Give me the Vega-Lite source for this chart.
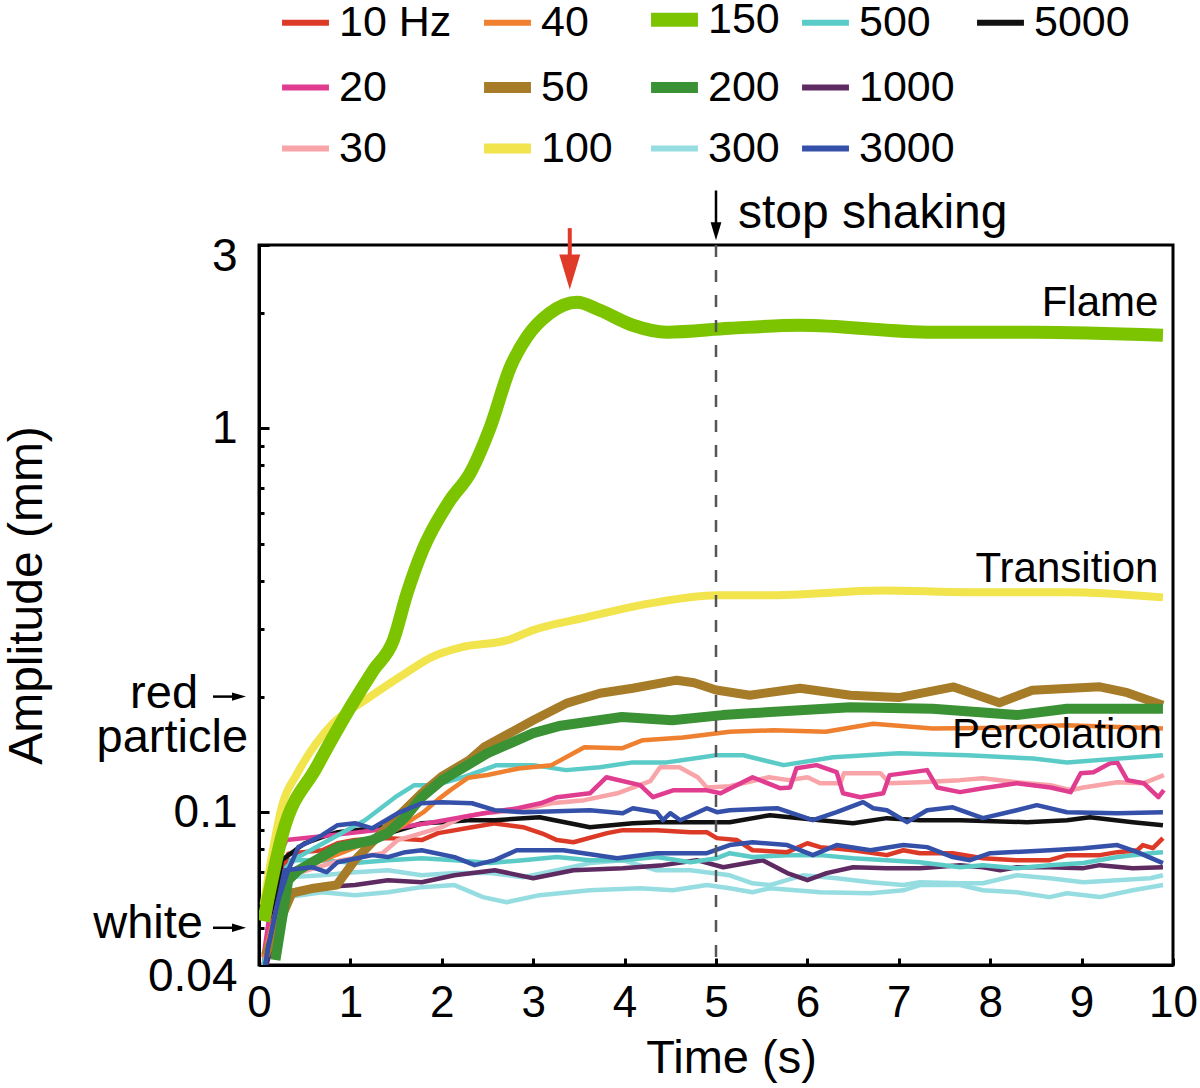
{
"$schema": "https://vega.github.io/schema/vega-lite/v6.json",
"width": 914, "height": 720,
"autosize": {"type": "none"},
"padding": {"left": 259, "top": 245, "right": 27, "bottom": 123},
"background": "white",
"config": {
  "view": {"stroke": "black", "strokeWidth": 3},
  "font": "Liberation Sans",
  "axis": {"domainColor": "black", "domainWidth": 3, "tickColor": "black", "tickWidth": 3, "labelColor": "black", "titleColor": "black", "grid": false, "titleFontWeight": "normal", "labelFont": "Liberation Sans", "titleFont": "Liberation Sans"},
  "text": {"font": "Liberation Sans", "fontSize": 42, "color": "black"}
},
"datasets": {
"series": [
{"f":"300","r":"300b","t":0.05,"a":0.04},{"f":"300","r":"300b","t":0.32,"a":0.0601},{"f":"300","r":"300b","t":0.69,"a":0.0619},{"f":"300","r":"300b","t":1.05,"a":0.0608},{"f":"300","r":"300b","t":1.41,"a":0.0619},{"f":"300","r":"300b","t":1.78,"a":0.0638},{"f":"300","r":"300b","t":2.14,"a":0.0646},{"f":"300","r":"300b","t":2.45,"a":0.0601},{"f":"300","r":"300b","t":2.71,"a":0.0583},{"f":"300","r":"300b","t":3.07,"a":0.0608},{"f":"300","r":"300b","t":3.62,"a":0.0626},{"f":"300","r":"300b","t":4.17,"a":0.0634},{"f":"300","r":"300b","t":4.53,"a":0.0626},{"f":"300","r":"300b","t":4.9,"a":0.0646},{"f":"300","r":"300b","t":5.15,"a":0.0634},{"f":"300","r":"300b","t":5.4,"a":0.0619},{"f":"300","r":"300b","t":5.59,"a":0.0634},{"f":"300","r":"300b","t":6.14,"a":0.0619},{"f":"300","r":"300b","t":6.69,"a":0.0615},{"f":"300","r":"300b","t":7.05,"a":0.0626},{"f":"300","r":"300b","t":7.23,"a":0.0646},{"f":"300","r":"300b","t":7.67,"a":0.0646},{"f":"300","r":"300b","t":7.92,"a":0.0626},{"f":"300","r":"300b","t":8.29,"a":0.0619},{"f":"300","r":"300b","t":8.65,"a":0.0601},{"f":"300","r":"300b","t":8.84,"a":0.0615},{"f":"300","r":"300b","t":9.2,"a":0.0601},{"f":"300","r":"300b","t":9.56,"a":0.0626},{"f":"300","r":"300b","t":9.89,"a":0.0646},
{"f":"300","r":"300","t":0.05,"a":0.04},{"f":"300","r":"300","t":0.32,"a":0.0677},{"f":"300","r":"300","t":0.69,"a":0.0685},{"f":"300","r":"300","t":1.05,"a":0.0698},{"f":"300","r":"300","t":1.41,"a":0.0706},{"f":"300","r":"300","t":1.78,"a":0.0685},{"f":"300","r":"300","t":2.14,"a":0.0694},{"f":"300","r":"300","t":2.53,"a":0.0694},{"f":"300","r":"300","t":2.89,"a":0.0677},{"f":"300","r":"300","t":3.26,"a":0.0706},{"f":"300","r":"300","t":3.62,"a":0.0737},{"f":"300","r":"300","t":3.98,"a":0.075},{"f":"300","r":"300","t":4.35,"a":0.0706},{"f":"300","r":"300","t":4.72,"a":0.0706},{"f":"300","r":"300","t":5.15,"a":0.0685},{"f":"300","r":"300","t":5.4,"a":0.0653},{"f":"300","r":"300","t":5.59,"a":0.0646},{"f":"300","r":"300","t":5.95,"a":0.0685},{"f":"300","r":"300","t":6.32,"a":0.0673},{"f":"300","r":"300","t":6.69,"a":0.0657},{"f":"300","r":"300","t":7.05,"a":0.0646},{"f":"300","r":"300","t":7.23,"a":0.0657},{"f":"300","r":"300","t":7.67,"a":0.0653},{"f":"300","r":"300","t":7.92,"a":0.0653},{"f":"300","r":"300","t":8.29,"a":0.0685},{"f":"300","r":"300","t":8.65,"a":0.0673},{"f":"300","r":"300","t":9.02,"a":0.0657},{"f":"300","r":"300","t":9.39,"a":0.0665},{"f":"300","r":"300","t":9.75,"a":0.0673},{"f":"300","r":"300","t":9.89,"a":0.0685},
{"f":"1000","r":"1000","t":0.08,"a":0.04},{"f":"1000","r":"1000","t":0.32,"a":0.0619},{"f":"1000","r":"1000","t":0.69,"a":0.0638},{"f":"1000","r":"1000","t":1.05,"a":0.0646},{"f":"1000","r":"1000","t":1.41,"a":0.0665},{"f":"1000","r":"1000","t":1.78,"a":0.0657},{"f":"1000","r":"1000","t":2.14,"a":0.0685},{"f":"1000","r":"1000","t":2.58,"a":0.0706},{"f":"1000","r":"1000","t":3.0,"a":0.0673},{"f":"1000","r":"1000","t":3.44,"a":0.0706},{"f":"1000","r":"1000","t":3.98,"a":0.0715},{"f":"1000","r":"1000","t":4.42,"a":0.0728},{"f":"1000","r":"1000","t":4.79,"a":0.075},{"f":"1000","r":"1000","t":5.08,"a":0.0719},{"f":"1000","r":"1000","t":5.51,"a":0.075},{"f":"1000","r":"1000","t":5.78,"a":0.0694},{"f":"1000","r":"1000","t":6.0,"a":0.0665},{"f":"1000","r":"1000","t":6.21,"a":0.0694},{"f":"1000","r":"1000","t":6.5,"a":0.0719},{"f":"1000","r":"1000","t":6.87,"a":0.0715},{"f":"1000","r":"1000","t":7.23,"a":0.0715},{"f":"1000","r":"1000","t":7.67,"a":0.0728},{"f":"1000","r":"1000","t":7.92,"a":0.0719},{"f":"1000","r":"1000","t":8.11,"a":0.0706},{"f":"1000","r":"1000","t":8.29,"a":0.0719},{"f":"1000","r":"1000","t":8.65,"a":0.0719},{"f":"1000","r":"1000","t":9.02,"a":0.0715},{"f":"1000","r":"1000","t":9.2,"a":0.0728},{"f":"1000","r":"1000","t":9.56,"a":0.0715},{"f":"1000","r":"1000","t":9.89,"a":0.0719},
{"f":"500","r":"500b","t":0.05,"a":0.04},{"f":"500","r":"500b","t":0.32,"a":0.075},{"f":"500","r":"500b","t":0.69,"a":0.075},{"f":"500","r":"500b","t":1.05,"a":0.0737},{"f":"500","r":"500b","t":1.41,"a":0.075},{"f":"500","r":"500b","t":1.78,"a":0.0759},{"f":"500","r":"500b","t":2.14,"a":0.075},{"f":"500","r":"500b","t":2.53,"a":0.0737},{"f":"500","r":"500b","t":2.89,"a":0.075},{"f":"500","r":"500b","t":3.26,"a":0.0764},{"f":"500","r":"500b","t":3.62,"a":0.075},{"f":"500","r":"500b","t":3.98,"a":0.075},{"f":"500","r":"500b","t":4.35,"a":0.0764},{"f":"500","r":"500b","t":4.72,"a":0.0741},{"f":"500","r":"500b","t":5.01,"a":0.0759},{"f":"500","r":"500b","t":5.15,"a":0.0782},{"f":"500","r":"500b","t":5.4,"a":0.0764},{"f":"500","r":"500b","t":5.78,"a":0.0773},{"f":"500","r":"500b","t":6.14,"a":0.0773},{"f":"500","r":"500b","t":6.5,"a":0.0759},{"f":"500","r":"500b","t":6.87,"a":0.075},{"f":"500","r":"500b","t":7.23,"a":0.0741},{"f":"500","r":"500b","t":7.67,"a":0.0719},{"f":"500","r":"500b","t":7.92,"a":0.0728},{"f":"500","r":"500b","t":8.29,"a":0.0715},{"f":"500","r":"500b","t":8.65,"a":0.0728},{"f":"500","r":"500b","t":9.02,"a":0.0737},{"f":"500","r":"500b","t":9.39,"a":0.0764},{"f":"500","r":"500b","t":9.75,"a":0.0782},{"f":"500","r":"500b","t":9.89,"a":0.0787},
{"f":"10 Hz","r":"10","t":0.05,"a":0.04},{"f":"10 Hz","r":"10","t":0.15,"a":0.06},{"f":"10 Hz","r":"10","t":0.32,"a":0.078},{"f":"10 Hz","r":"10","t":0.69,"a":0.0796},{"f":"10 Hz","r":"10","t":0.86,"a":0.083},{"f":"10 Hz","r":"10","t":1.05,"a":0.0846},{"f":"10 Hz","r":"10","t":1.41,"a":0.0856},{"f":"10 Hz","r":"10","t":1.78,"a":0.0846},{"f":"10 Hz","r":"10","t":1.96,"a":0.0882},{"f":"10 Hz","r":"10","t":2.33,"a":0.0914},{"f":"10 Hz","r":"10","t":2.58,"a":0.0935},{"f":"10 Hz","r":"10","t":2.89,"a":0.0914},{"f":"10 Hz","r":"10","t":3.1,"a":0.088},{"f":"10 Hz","r":"10","t":3.26,"a":0.0846},{"f":"10 Hz","r":"10","t":3.44,"a":0.0835},{"f":"10 Hz","r":"10","t":3.81,"a":0.0882},{"f":"10 Hz","r":"10","t":3.98,"a":0.0898},{"f":"10 Hz","r":"10","t":4.35,"a":0.0898},{"f":"10 Hz","r":"10","t":4.72,"a":0.0887},{"f":"10 Hz","r":"10","t":4.9,"a":0.0887},{"f":"10 Hz","r":"10","t":5.01,"a":0.0856},{"f":"10 Hz","r":"10","t":5.23,"a":0.0846},{"f":"10 Hz","r":"10","t":5.4,"a":0.0796},{"f":"10 Hz","r":"10","t":5.78,"a":0.0787},{"f":"10 Hz","r":"10","t":6.0,"a":0.083},{"f":"10 Hz","r":"10","t":6.14,"a":0.0811},{"f":"10 Hz","r":"10","t":6.5,"a":0.0796},{"f":"10 Hz","r":"10","t":6.87,"a":0.0773},{"f":"10 Hz","r":"10","t":7.05,"a":0.0796},{"f":"10 Hz","r":"10","t":7.23,"a":0.0782},{"f":"10 Hz","r":"10","t":7.59,"a":0.0782},{"f":"10 Hz","r":"10","t":7.92,"a":0.0759},{"f":"10 Hz","r":"10","t":8.29,"a":0.075},{"f":"10 Hz","r":"10","t":8.65,"a":0.075},{"f":"10 Hz","r":"10","t":8.84,"a":0.0773},{"f":"10 Hz","r":"10","t":9.2,"a":0.0773},{"f":"10 Hz","r":"10","t":9.39,"a":0.0787},{"f":"10 Hz","r":"10","t":9.61,"a":0.0796},{"f":"10 Hz","r":"10","t":9.67,"a":0.0821},{"f":"10 Hz","r":"10","t":9.78,"a":0.0806},{"f":"10 Hz","r":"10","t":9.89,"a":0.0856},
{"f":"5000","r":"5000","t":0.07,"a":0.04},{"f":"5000","r":"5000","t":0.25,"a":0.075},{"f":"5000","r":"5000","t":0.5,"a":0.083},{"f":"5000","r":"5000","t":0.69,"a":0.0861},{"f":"5000","r":"5000","t":0.86,"a":0.0887},{"f":"5000","r":"5000","t":1.05,"a":0.0898},{"f":"5000","r":"5000","t":1.35,"a":0.0914},{"f":"5000","r":"5000","t":1.46,"a":0.0887},{"f":"5000","r":"5000","t":1.6,"a":0.0908},{"f":"5000","r":"5000","t":1.78,"a":0.0936},{"f":"5000","r":"5000","t":2.0,"a":0.0942},{"f":"5000","r":"5000","t":2.29,"a":0.0953},{"f":"5000","r":"5000","t":2.58,"a":0.0953},{"f":"5000","r":"5000","t":3.07,"a":0.097},{"f":"5000","r":"5000","t":3.62,"a":0.0914},{"f":"5000","r":"5000","t":4.09,"a":0.0936},{"f":"5000","r":"5000","t":4.35,"a":0.0942},{"f":"5000","r":"5000","t":5.15,"a":0.0942},{"f":"5000","r":"5000","t":5.59,"a":0.0982},{"f":"5000","r":"5000","t":6.14,"a":0.0953},{"f":"5000","r":"5000","t":6.5,"a":0.0936},{"f":"5000","r":"5000","t":6.87,"a":0.0965},{"f":"5000","r":"5000","t":7.23,"a":0.0953},{"f":"5000","r":"5000","t":7.67,"a":0.0953},{"f":"5000","r":"5000","t":8.4,"a":0.0942},{"f":"5000","r":"5000","t":8.84,"a":0.0953},{"f":"5000","r":"5000","t":9.09,"a":0.097},{"f":"5000","r":"5000","t":9.56,"a":0.0942},{"f":"5000","r":"5000","t":9.89,"a":0.0925},
{"f":"30","r":"30","t":0.05,"a":0.04},{"f":"30","r":"30","t":0.3,"a":0.068},{"f":"30","r":"30","t":0.9,"a":0.075},{"f":"30","r":"30","t":1.35,"a":0.0782},{"f":"30","r":"30","t":1.52,"a":0.0846},{"f":"30","r":"30","t":1.78,"a":0.0882},{"f":"30","r":"30","t":2.0,"a":0.0914},{"f":"30","r":"30","t":2.22,"a":0.097},{"f":"30","r":"30","t":2.46,"a":0.0994},{"f":"30","r":"30","t":2.83,"a":0.1012},{"f":"30","r":"30","t":3.2,"a":0.1055},{"f":"30","r":"30","t":3.56,"a":0.1075},{"f":"30","r":"30","t":3.92,"a":0.112},{"f":"30","r":"30","t":4.28,"a":0.1204},{"f":"30","r":"30","t":4.39,"a":0.131},{"f":"30","r":"30","t":4.6,"a":0.131},{"f":"30","r":"30","t":4.8,"a":0.1233},{"f":"30","r":"30","t":4.9,"a":0.116},{"f":"30","r":"30","t":5.15,"a":0.1168},{"f":"30","r":"30","t":5.58,"a":0.1233},{"f":"30","r":"30","t":5.8,"a":0.1212},{"f":"30","r":"30","t":6.0,"a":0.1233},{"f":"30","r":"30","t":6.14,"a":0.119},{"f":"30","r":"30","t":6.36,"a":0.119},{"f":"30","r":"30","t":6.4,"a":0.1263},{"f":"30","r":"30","t":6.8,"a":0.1263},{"f":"30","r":"30","t":6.9,"a":0.119},{"f":"30","r":"30","t":7.23,"a":0.1197},{"f":"30","r":"30","t":7.67,"a":0.1212},{"f":"30","r":"30","t":7.92,"a":0.1226},{"f":"30","r":"30","t":8.29,"a":0.1197},{"f":"30","r":"30","t":8.66,"a":0.1176},{"f":"30","r":"30","t":8.88,"a":0.1141},{"f":"30","r":"30","t":9.02,"a":0.116},{"f":"30","r":"30","t":9.39,"a":0.1197},{"f":"30","r":"30","t":9.68,"a":0.119},{"f":"30","r":"30","t":9.9,"a":0.1249},
{"f":"20","r":"20","t":0.05,"a":0.042},{"f":"20","r":"20","t":0.2,"a":0.075},{"f":"20","r":"20","t":0.3,"a":0.0846},{"f":"20","r":"20","t":1.0,"a":0.0882},{"f":"20","r":"20","t":1.55,"a":0.0914},{"f":"20","r":"20","t":1.91,"a":0.0942},{"f":"20","r":"20","t":2.46,"a":0.0994},{"f":"20","r":"20","t":2.83,"a":0.1024},{"f":"20","r":"20","t":3.08,"a":0.1055},{"f":"20","r":"20","t":3.26,"a":0.1094},{"f":"20","r":"20","t":3.62,"a":0.112},{"f":"20","r":"20","t":3.8,"a":0.1233},{"f":"20","r":"20","t":4.17,"a":0.1176},{"f":"20","r":"20","t":4.31,"a":0.1094},{"f":"20","r":"20","t":4.53,"a":0.114},{"f":"20","r":"20","t":4.9,"a":0.114},{"f":"20","r":"20","t":5.05,"a":0.112},{"f":"20","r":"20","t":5.4,"a":0.1233},{"f":"20","r":"20","t":5.7,"a":0.1155},{"f":"20","r":"20","t":5.81,"a":0.116},{"f":"20","r":"20","t":5.88,"a":0.1302},{"f":"20","r":"20","t":6.1,"a":0.1326},{"f":"20","r":"20","t":6.32,"a":0.1271},{"f":"20","r":"20","t":6.39,"a":0.112},{"f":"20","r":"20","t":6.58,"a":0.1094},{"f":"20","r":"20","t":6.83,"a":0.112},{"f":"20","r":"20","t":6.9,"a":0.1249},{"f":"20","r":"20","t":7.31,"a":0.1287},{"f":"20","r":"20","t":7.42,"a":0.116},{"f":"20","r":"20","t":7.67,"a":0.1128},{"f":"20","r":"20","t":7.92,"a":0.1155},{"f":"20","r":"20","t":8.29,"a":0.119},{"f":"20","r":"20","t":8.66,"a":0.116},{"f":"20","r":"20","t":8.88,"a":0.1128},{"f":"20","r":"20","t":8.99,"a":0.1263},{"f":"20","r":"20","t":9.13,"a":0.127},{"f":"20","r":"20","t":9.31,"a":0.134},{"f":"20","r":"20","t":9.39,"a":0.1348},{"f":"20","r":"20","t":9.5,"a":0.1212},{"f":"20","r":"20","t":9.68,"a":0.119},{"f":"20","r":"20","t":9.84,"a":0.1094},{"f":"20","r":"20","t":9.9,"a":0.1141},
{"f":"500","r":"500","t":0.05,"a":0.04},{"f":"500","r":"500","t":0.3,"a":0.072},{"f":"500","r":"500","t":0.43,"a":0.0764},{"f":"500","r":"500","t":1.16,"a":0.0953},{"f":"500","r":"500","t":1.49,"a":0.1094},{"f":"500","r":"500","t":1.7,"a":0.1176},{"f":"500","r":"500","t":1.93,"a":0.1176},{"f":"500","r":"500","t":2.23,"a":0.1233},{"f":"500","r":"500","t":2.6,"a":0.1326},{"f":"500","r":"500","t":3.0,"a":0.1326},{"f":"500","r":"500","t":3.36,"a":0.1287},{"f":"500","r":"500","t":3.73,"a":0.131},{"f":"500","r":"500","t":4.09,"a":0.1348},{"f":"500","r":"500","t":4.46,"a":0.1348},{"f":"500","r":"500","t":5.0,"a":0.1407},{"f":"500","r":"500","t":5.3,"a":0.1407},{"f":"500","r":"500","t":5.74,"a":0.1326},{"f":"500","r":"500","t":6.28,"a":0.139},{"f":"500","r":"500","t":7.0,"a":0.1424},{"f":"500","r":"500","t":7.75,"a":0.1407},{"f":"500","r":"500","t":8.47,"a":0.138},{"f":"500","r":"500","t":8.84,"a":0.1348},{"f":"500","r":"500","t":9.89,"a":0.1407},
{"f":"40","r":"40","t":0.05,"a":0.042},{"f":"40","r":"40","t":0.3,"a":0.07},{"f":"40","r":"40","t":0.7,"a":0.075},{"f":"40","r":"40","t":1.0,"a":0.08},{"f":"40","r":"40","t":1.5,"a":0.09},{"f":"40","r":"40","t":1.8,"a":0.1},{"f":"40","r":"40","t":1.95,"a":0.1075},{"f":"40","r":"40","t":2.09,"a":0.114},{"f":"40","r":"40","t":2.29,"a":0.123},{"f":"40","r":"40","t":2.5,"a":0.125},{"f":"40","r":"40","t":2.84,"a":0.13},{"f":"40","r":"40","t":3.2,"a":0.1326},{"f":"40","r":"40","t":3.56,"a":0.1477},{"f":"40","r":"40","t":3.97,"a":0.1467},{"f":"40","r":"40","t":4.2,"a":0.154},{"f":"40","r":"40","t":4.64,"a":0.1566},{"f":"40","r":"40","t":5.15,"a":0.1619},{"f":"40","r":"40","t":5.63,"a":0.1635},{"f":"40","r":"40","t":6.2,"a":0.162},{"f":"40","r":"40","t":6.72,"a":0.17},{"f":"40","r":"40","t":7.37,"a":0.1652},{"f":"40","r":"40","t":8.1,"a":0.166},{"f":"40","r":"40","t":8.84,"a":0.1685},{"f":"40","r":"40","t":9.89,"a":0.1652},
{"f":"50","r":"50","t":0.07,"a":0.0424},{"f":"50","r":"50","t":0.36,"a":0.0616},{"f":"50","r":"50","t":0.6,"a":0.0634},{"f":"50","r":"50","t":0.85,"a":0.0646},{"f":"50","r":"50","t":1.05,"a":0.075},{"f":"50","r":"50","t":1.4,"a":0.0914},{"f":"50","r":"50","t":1.78,"a":0.112},{"f":"50","r":"50","t":2.0,"a":0.124},{"f":"50","r":"50","t":2.3,"a":0.1366},{"f":"50","r":"50","t":2.46,"a":0.1476},{"f":"50","r":"50","t":3.0,"a":0.1736},{"f":"50","r":"50","t":3.36,"a":0.192},{"f":"50","r":"50","t":3.73,"a":0.204},{"f":"50","r":"50","t":4.09,"a":0.2103},{"f":"50","r":"50","t":4.57,"a":0.2207},{"f":"50","r":"50","t":4.76,"a":0.2174},{"f":"50","r":"50","t":5.0,"a":0.208},{"f":"50","r":"50","t":5.37,"a":0.2017},{"f":"50","r":"50","t":5.92,"a":0.2103},{"f":"50","r":"50","t":6.47,"a":0.2017},{"f":"50","r":"50","t":7.0,"a":0.1988},{"f":"50","r":"50","t":7.6,"a":0.212},{"f":"50","r":"50","t":8.1,"a":0.1928},{"f":"50","r":"50","t":8.46,"a":0.2078},{"f":"50","r":"50","t":9.2,"a":0.2121},{"f":"50","r":"50","t":9.5,"a":0.2048},{"f":"50","r":"50","t":9.89,"a":0.1899},
{"f":"200","r":"200","t":0.18,"a":0.0412},{"f":"200","r":"200","t":0.32,"a":0.0665},{"f":"200","r":"200","t":0.43,"a":0.0706},{"f":"200","r":"200","t":0.87,"a":0.0811},{"f":"200","r":"200","t":1.24,"a":0.0846},{"f":"200","r":"200","t":1.41,"a":0.0882},{"f":"200","r":"200","t":1.6,"a":0.097},{"f":"200","r":"200","t":1.78,"a":0.1094},{"f":"200","r":"200","t":2.0,"a":0.121},{"f":"200","r":"200","t":2.5,"a":0.1424},{"f":"200","r":"200","t":3.0,"a":0.1606},{"f":"200","r":"200","t":3.3,"a":0.168},{"f":"200","r":"200","t":3.97,"a":0.177},{"f":"200","r":"200","t":4.52,"a":0.1736},{"f":"200","r":"200","t":5.07,"a":0.179},{"f":"200","r":"200","t":5.37,"a":0.181},{"f":"200","r":"200","t":6.47,"a":0.1877},{"f":"200","r":"200","t":7.37,"a":0.186},{"f":"200","r":"200","t":8.29,"a":0.179},{"f":"200","r":"200","t":8.84,"a":0.186},{"f":"200","r":"200","t":9.89,"a":0.186},
{"f":"3000","r":"3000b","t":0.04,"a":0.036},{"f":"3000","r":"3000b","t":0.1,"a":0.0445},{"f":"3000","r":"3000b","t":0.28,"a":0.0706},{"f":"3000","r":"3000b","t":0.58,"a":0.0719},{"f":"3000","r":"3000b","t":0.74,"a":0.0698},{"f":"3000","r":"3000b","t":0.86,"a":0.0741},{"f":"3000","r":"3000b","t":1.24,"a":0.0773},{"f":"3000","r":"3000b","t":1.41,"a":0.0764},{"f":"3000","r":"3000b","t":1.6,"a":0.0787},{"f":"3000","r":"3000b","t":1.78,"a":0.0796},{"f":"3000","r":"3000b","t":2.14,"a":0.0764},{"f":"3000","r":"3000b","t":2.36,"a":0.0728},{"f":"3000","r":"3000b","t":2.58,"a":0.075},{"f":"3000","r":"3000b","t":2.82,"a":0.0796},{"f":"3000","r":"3000b","t":3.33,"a":0.0796},{"f":"3000","r":"3000b","t":3.92,"a":0.0759},{"f":"3000","r":"3000b","t":4.35,"a":0.0782},{"f":"3000","r":"3000b","t":4.9,"a":0.0782},{"f":"3000","r":"3000b","t":5.15,"a":0.0821},{"f":"3000","r":"3000b","t":5.4,"a":0.0835},{"f":"3000","r":"3000b","t":5.78,"a":0.0821},{"f":"3000","r":"3000b","t":6.06,"a":0.0773},{"f":"3000","r":"3000b","t":6.32,"a":0.0821},{"f":"3000","r":"3000b","t":6.69,"a":0.0796},{"f":"3000","r":"3000b","t":7.05,"a":0.0821},{"f":"3000","r":"3000b","t":7.31,"a":0.0811},{"f":"3000","r":"3000b","t":7.59,"a":0.0764},{"f":"3000","r":"3000b","t":7.78,"a":0.075},{"f":"3000","r":"3000b","t":8.0,"a":0.0782},{"f":"3000","r":"3000b","t":8.65,"a":0.0796},{"f":"3000","r":"3000b","t":9.02,"a":0.0806},{"f":"3000","r":"3000b","t":9.39,"a":0.0821},{"f":"3000","r":"3000b","t":9.61,"a":0.0787},{"f":"3000","r":"3000b","t":9.89,"a":0.0737},
{"f":"3000","r":"3000","t":0.04,"a":0.036},{"f":"3000","r":"3000","t":0.1,"a":0.0445},{"f":"3000","r":"3000","t":0.21,"a":0.059},{"f":"3000","r":"3000","t":0.32,"a":0.0706},{"f":"3000","r":"3000","t":0.43,"a":0.0811},{"f":"3000","r":"3000","t":0.69,"a":0.0871},{"f":"3000","r":"3000","t":0.86,"a":0.0925},{"f":"3000","r":"3000","t":1.05,"a":0.0936},{"f":"3000","r":"3000","t":1.24,"a":0.0908},{"f":"3000","r":"3000","t":1.52,"a":0.0994},{"f":"3000","r":"3000","t":1.78,"a":0.1055},{"f":"3000","r":"3000","t":2.0,"a":0.1062},{"f":"3000","r":"3000","t":2.33,"a":0.1055},{"f":"3000","r":"3000","t":2.58,"a":0.1012},{"f":"3000","r":"3000","t":2.89,"a":0.1},{"f":"3000","r":"3000","t":3.62,"a":0.1012},{"f":"3000","r":"3000","t":3.98,"a":0.0994},{"f":"3000","r":"3000","t":4.09,"a":0.1024},{"f":"3000","r":"3000","t":4.35,"a":0.1},{"f":"3000","r":"3000","t":4.42,"a":0.0953},{"f":"3000","r":"3000","t":4.5,"a":0.0994},{"f":"3000","r":"3000","t":4.61,"a":0.0953},{"f":"3000","r":"3000","t":4.9,"a":0.1024},{"f":"3000","r":"3000","t":5.01,"a":0.1},{"f":"3000","r":"3000","t":5.15,"a":0.1012},{"f":"3000","r":"3000","t":5.67,"a":0.1024},{"f":"3000","r":"3000","t":6.06,"a":0.0953},{"f":"3000","r":"3000","t":6.32,"a":0.1},{"f":"3000","r":"3000","t":6.61,"a":0.1062},{"f":"3000","r":"3000","t":6.72,"a":0.1024},{"f":"3000","r":"3000","t":6.87,"a":0.1012},{"f":"3000","r":"3000","t":7.09,"a":0.0942},{"f":"3000","r":"3000","t":7.31,"a":0.1012},{"f":"3000","r":"3000","t":7.59,"a":0.103},{"f":"3000","r":"3000","t":7.92,"a":0.0965},{"f":"3000","r":"3000","t":8.29,"a":0.1012},{"f":"3000","r":"3000","t":8.51,"a":0.1043},{"f":"3000","r":"3000","t":8.84,"a":0.1},{"f":"3000","r":"3000","t":9.39,"a":0.0994},{"f":"3000","r":"3000","t":9.89,"a":0.1},
{"f":"100","r":"100","t":0.05,"a":0.0573},{"f":"100","r":"100","t":0.26,"a":0.1055},{"f":"100","r":"100","t":0.42,"a":0.1263},{"f":"100","r":"100","t":0.81,"a":0.1705},{"f":"100","r":"100","t":1.16,"a":0.1957},{"f":"100","r":"100","t":1.6,"a":0.23},{"f":"100","r":"100","t":1.89,"a":0.2534},{"f":"100","r":"100","t":2.22,"a":0.269},{"f":"100","r":"100","t":2.72,"a":0.2805},{"f":"100","r":"100","t":3.0,"a":0.298},{"f":"100","r":"100","t":3.54,"a":0.32},{"f":"100","r":"100","t":4.28,"a":0.3498},{"f":"100","r":"100","t":5.01,"a":0.3672},{"f":"100","r":"100","t":5.56,"a":0.367},{"f":"100","r":"100","t":6.83,"a":0.378},{"f":"100","r":"100","t":7.75,"a":0.374},{"f":"100","r":"100","t":8.84,"a":0.374},{"f":"100","r":"100","t":9.89,"a":0.3626},
{"f":"150","r":"150","t":0.05,"a":0.052},{"f":"150","r":"150","t":0.26,"a":0.0882},{"f":"150","r":"150","t":0.63,"a":0.131},{"f":"150","r":"150","t":1.0,"a":0.1877},{"f":"150","r":"150","t":1.25,"a":0.234},{"f":"150","r":"150","t":1.47,"a":0.2805},{"f":"150","r":"150","t":1.62,"a":0.372},{"f":"150","r":"150","t":1.79,"a":0.481},{"f":"150","r":"150","t":2.09,"a":0.649},{"f":"150","r":"150","t":2.31,"a":0.764},{"f":"150","r":"150","t":2.53,"a":1.006},{"f":"150","r":"150","t":2.75,"a":1.442},{"f":"150","r":"150","t":2.93,"a":1.726},{"f":"150","r":"150","t":3.18,"a":1.992},{"f":"150","r":"150","t":3.48,"a":2.128},{"f":"150","r":"150","t":3.73,"a":2.028},{"f":"150","r":"150","t":4.09,"a":1.854},{"f":"150","r":"150","t":4.46,"a":1.778},{"f":"150","r":"150","t":5.15,"a":1.82},{"f":"150","r":"150","t":5.92,"a":1.854},{"f":"150","r":"150","t":7.37,"a":1.778},{"f":"150","r":"150","t":8.47,"a":1.778},{"f":"150","r":"150","t":9.89,"a":1.746}
],
"inplot": [{"label":"Flame","t":9.84,"a":1.96},{"label":"Transition","t":9.84,"a":0.397},{"label":"Percolation","t":9.88,"a":0.1468}],
"leftlab": [{"label":"red","t":-0.667,"a":0.1865},{"label":"particle","t":-0.12,"a":0.1433},{"label":"white","t":-0.613,"a":0.047}],
"stoplab": [{"label":"stop shaking","t":5.24,"a":3.32}],
"shafts": [{"t":5,"t2":5,"a":4.16,"a2":3.3},{"t":-0.503,"t2":-0.26,"a":0.2,"a2":0.2},{"t":-0.503,"t2":-0.26,"a":0.05,"a2":0.05}],
"redshaft": [{"t":3.4,"t2":3.4,"a":3.32,"a2":2.8}],
"redhead": [{"t":3.4,"a":2.55}],
"downhead": [{"t":5,"a":3.26}],
"righthead": [{"t":-0.219,"a":0.2},{"t":-0.219,"a":0.05}],
"stopline": [{"t":5}]
},
"layer": [
{"data": {"name": "series"},
 "transform": [{"filter": {"not": {"field": "f", "oneOf": ["150", "100"]}}}],
 "mark": {"type": "line", "clip": true, "strokeJoin": "round"},
 "encoding": {
  "x": {"field": "t", "type": "quantitative", "scale": {"domain": [0, 10], "nice": false, "zero": false},
        "axis": {"values": [0,1,2,3,4,5,6,7,8,9,10], "format": "d", "tickSize": -7, "labelFontSize": 44, "labelPadding": 23, "labelFlush": false, "labelOverlap": false, "title": "Time (s)", "titleFontSize": 47, "titlePadding": 10, "titleX": 472}},
  "y": {"field": "a", "type": "quantitative", "scale": {"type": "log", "domain": [0.04, 3], "nice": false},
        "axis": {"values": [0.04,0.05,0.06,0.07,0.08,0.09,0.1,0.2,0.3,0.4,0.5,0.6,0.7,0.8,0.9,1,2,3],
                 "labelExpr": "indexof([0.04,0.1,1,3], datum.value) >= 0 ? format(datum.value, '~g') : ''",
                 "tickSize": {"condition": {"test": "indexof([0.04,0.1,1,3], datum.value) >= 0", "value": -10}, "value": -5},
                 "labelOffset": {"condition": {"test": "datum.value == 3 || datum.value == 0.04", "value": 11}, "value": 0},
                 "labelFontSize": 46, "labelPadding": 32, "labelOverlap": false, "labelFlush": false,
                 "title": "Amplitude (mm)", "titleFontSize": 48, "titlePadding": 96, "titleY": 350}},
  "color": {"field": "f", "type": "nominal",
            "scale": {"domain": ["10 Hz","20","30","40","50","100","150","200","300","500","1000","3000","5000"," "],
                      "range": ["#DC3A26","#E03C90","#F8A4A8","#EE8030","#A77C28","#F2E44C","#7CC300","#3A9235","#96DDE2","#5BCBC8","#5E2A62","#3550A8","#111111","#FFFFFF"]},
            "legend": {"title": null, "orient": "none", "legendX": 25, "legendY": -247, "columns": 5, "symbolType": "stroke", "symbolSize": 2200, "labelFontSize": 43, "labelFont": "Liberation Sans", "labelColor": "black", "labelOffset": 12, "columnPadding": 10, "rowPadding": 17, "padding": 0, "labelLimit": 300,
                       "encode": {"symbols": {"update": {"strokeWidth": {"signal": "datum.value === '150' ? 14 : (datum.value === '50' || datum.value === '200') ? 11 : datum.value === '100' ? 10 : datum.value === ' ' ? 0 : 6"}}}}}},
  "strokeWidth": {"condition": [{"test": "datum.f === '200'", "value": 10}, {"test": "datum.f === '50'", "value": 9}], "value": 4.5},
  "detail": {"field": "r"}
 }},
{"data": {"name": "series"},
 "transform": [{"filter": {"field": "f", "oneOf": ["100", "150"]}}],
 "mark": {"type": "line", "clip": true, "interpolate": "monotone", "strokeJoin": "round"},
 "encoding": {
  "x": {"field": "t", "type": "quantitative"},
  "y": {"field": "a", "type": "quantitative"},
  "color": {"field": "f", "type": "nominal"},
  "strokeWidth": {"condition": [{"test": "datum.f === '150'", "value": 13}], "value": 8},
  "detail": {"field": "r"}
 }},
{"data": {"name": "stopline"},
 "mark": {"type": "rule", "color": "#555555", "strokeWidth": 2.5, "strokeDash": [12, 13]},
 "encoding": {"x": {"field": "t", "type": "quantitative"}}},
{"data": {"name": "shafts"},
 "mark": {"type": "rule", "color": "black", "strokeWidth": 2.5},
 "encoding": {"x": {"field": "t", "type": "quantitative"}, "x2": {"field": "t2"}, "y": {"field": "a", "type": "quantitative"}, "y2": {"field": "a2"}}},
{"data": {"name": "redshaft"},
 "mark": {"type": "rule", "color": "#E03A28", "strokeWidth": 4},
 "encoding": {"x": {"field": "t", "type": "quantitative"}, "x2": {"field": "t2"}, "y": {"field": "a", "type": "quantitative"}, "y2": {"field": "a2"}}},
{"data": {"name": "redhead"},
 "mark": {"type": "point", "shape": "M-0.6,-1L0.6,-1L0,1Z", "size": 1225, "filled": true, "color": "#E03A28", "opacity": 1},
 "encoding": {"x": {"field": "t", "type": "quantitative"}, "y": {"field": "a", "type": "quantitative"}}},
{"data": {"name": "downhead"},
 "mark": {"type": "point", "shape": "M-0.6,-1L0.6,-1L0,1Z", "size": 324, "filled": true, "color": "black", "opacity": 1},
 "encoding": {"x": {"field": "t", "type": "quantitative"}, "y": {"field": "a", "type": "quantitative"}}},
{"data": {"name": "righthead"},
 "mark": {"type": "point", "shape": "M-1,-0.6L1,0L-1,0.6Z", "size": 196, "filled": true, "color": "black", "opacity": 1},
 "encoding": {"x": {"field": "t", "type": "quantitative"}, "y": {"field": "a", "type": "quantitative"}}},
{"data": {"name": "inplot"},
 "mark": {"type": "text", "align": "right", "baseline": "alphabetic", "fontSize": 42},
 "encoding": {"x": {"field": "t", "type": "quantitative"}, "y": {"field": "a", "type": "quantitative"}, "text": {"field": "label"}}},
{"data": {"name": "leftlab"},
 "mark": {"type": "text", "align": "right", "baseline": "alphabetic", "fontSize": 47},
 "encoding": {"x": {"field": "t", "type": "quantitative"}, "y": {"field": "a", "type": "quantitative"}, "text": {"field": "label"}}},
{"data": {"name": "stoplab"},
 "mark": {"type": "text", "align": "left", "baseline": "alphabetic", "fontSize": 48},
 "encoding": {"x": {"field": "t", "type": "quantitative"}, "y": {"field": "a", "type": "quantitative"}, "text": {"field": "label"}}}
]
}
